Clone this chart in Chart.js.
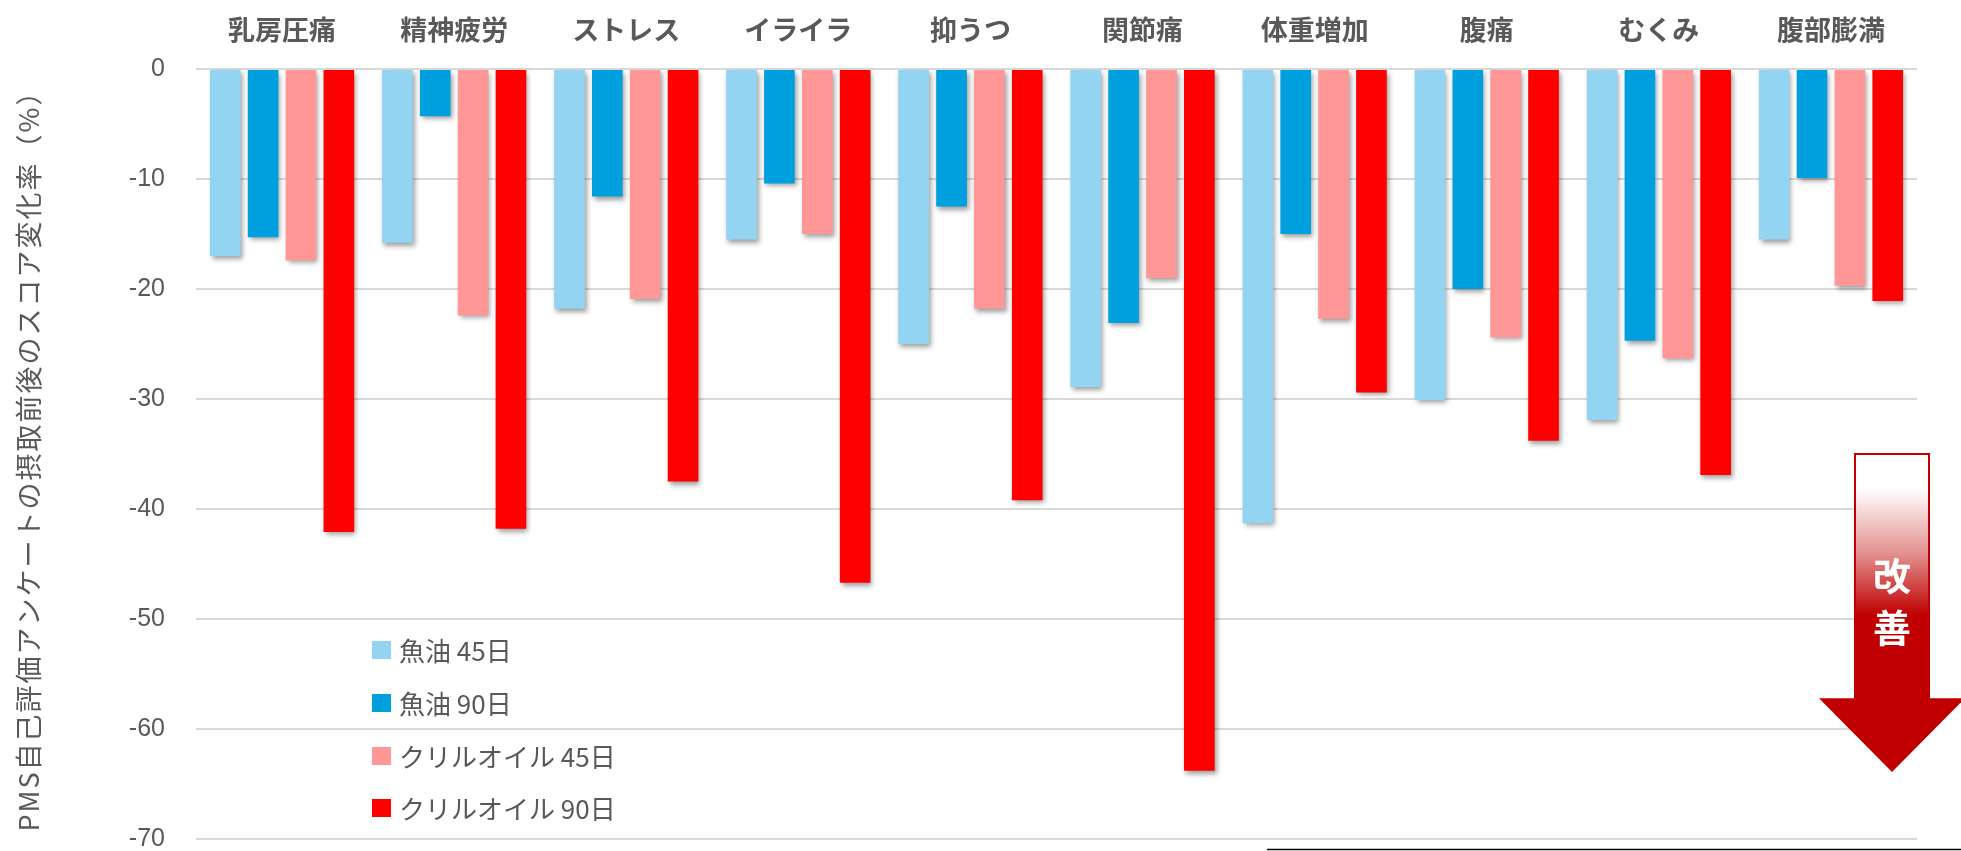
<!DOCTYPE html>
<html lang="ja">
<head>
<meta charset="utf-8">
<title>PMS自己評価アンケート スコア変化率</title>
<script src="https://cdn.jsdelivr.net/npm/chart.js@4.4.1/dist/chart.umd.min.js"></script>
<style>
  html, body { margin: 0; padding: 0; background: #fff; }
  #wrap { position: relative; width: 1961px; height: 851px; }
</style>
</head>
<body>
<div id="wrap"><canvas id="pmsChart" width="1961" height="851"></canvas></div>
<script>
// symptom categories and score change (%) per group
const categories = ['乳房圧痛', '精神疲労', 'ストレス', 'イライラ', '抑うつ', '関節痛', '体重増加', '腹痛', 'むくみ', '腹部膨満'];
const seriesNames = ['魚油 45日', '魚油 90日', 'クリルオイル 45日', 'クリルオイル 90日'];
const fishOil45 = [-17.0, -15.8, -21.8, -15.5, -25.0, -28.9, -41.3, -30.1, -31.9, -15.5];
const fishOil90 = [-15.3, -4.3, -11.6, -10.4, -12.5, -23.1, -15.0, -20.0, -24.7, -9.9];
const krill45 = [-17.4, -22.4, -20.9, -15.0, -21.8, -19.0, -22.7, -24.4, -26.3, -19.7];
const krill90 = [-42.1, -41.8, -37.5, -46.7, -39.2, -63.8, -29.4, -33.8, -36.9, -21.1];
const yTicks = [0, -10, -20, -30, -40, -50, -60, -70];
const yTitle = 'PMS自己評価アンケートの摂取前後のスコア変化率（%）';

const colors = ['#92D4F1', '#00A0DF', '#FF9797', '#FF0000'];
const textGrey = '#595959';
const jpFont = '"Noto Sans CJK JP", "Noto Sans", sans-serif';

// drop shadow under the bars
const barShadow = {
    id: 'barShadow',
    beforeDatasetsDraw(chart) {
        const ctx = chart.ctx;
        ctx.save();
        ctx.shadowColor = 'rgba(0,0,0,0.38)';
        ctx.shadowBlur = 5;
        ctx.shadowOffsetX = 2;
        ctx.shadowOffsetY = 3;
    },
    afterDatasetsDraw(chart) {
        chart.ctx.restore();
    }
};

// axis title, legend inside the plot, arrow and bottom rule
const extras = {
    id: 'extras',
    afterDraw(chart) {
        const ctx = chart.ctx;
        const y = chart.scales.y;
        const area = chart.chartArea;

        // rotated y title with a little tracking
        ctx.save();
        ctx.translate(29, (area.top + area.bottom) / 2);
        ctx.rotate(-Math.PI / 2);
        ctx.font = '27px ' + jpFont;
        ctx.letterSpacing = '2px';
        ctx.fillStyle = textGrey;
        ctx.textAlign = 'center';
        ctx.textBaseline = 'middle';
        ctx.fillText(yTitle, 0, 0);
        ctx.restore();

        // legend
        ctx.save();
        ctx.font = '26px ' + jpFont;
        ctx.textBaseline = 'middle';
        ctx.textAlign = 'left';
        const rowY = [650, 703, 756, 808];
        chart.data.datasets.forEach((ds, i) => {
            ctx.fillStyle = ds.backgroundColor;
            ctx.fillRect(372, rowY[i] - 9, 19, 18);
            ctx.fillStyle = textGrey;
            ctx.fillText(ds.label, 399, rowY[i] + 1);
        });
        ctx.restore();

        // 改善 arrow
        const cx = 1892;
        const shaftL = 1855, shaftR = 1929;
        const top = y.getPixelForValue(-35.0);
        const headTop = y.getPixelForValue(-57.2);
        const tip = y.getPixelForValue(-63.9);
        ctx.save();
        const grad = ctx.createLinearGradient(0, top, 0, headTop);
        grad.addColorStop(0, '#ffffff');
        grad.addColorStop(0.14, '#ffffff');
        grad.addColorStop(0.4, '#e49494');
        grad.addColorStop(0.66, '#c00000');
        grad.addColorStop(1, '#c00000');
        ctx.fillStyle = grad;
        ctx.fillRect(shaftL, top, shaftR - shaftL, headTop - top + 1);
        ctx.strokeStyle = '#c00000';
        ctx.lineWidth = 2;
        ctx.beginPath();
        ctx.moveTo(shaftL, headTop);
        ctx.lineTo(shaftL, top);
        ctx.lineTo(shaftR, top);
        ctx.lineTo(shaftR, headTop);
        ctx.stroke();
        ctx.fillStyle = '#c00000';
        ctx.beginPath();
        ctx.moveTo(cx - 73, headTop);
        ctx.lineTo(cx + 73, headTop);
        ctx.lineTo(cx, tip);
        ctx.closePath();
        ctx.fill();
        ctx.fillStyle = '#ffffff';
        ctx.font = 'bold 38px ' + jpFont;
        ctx.textAlign = 'center';
        ctx.textBaseline = 'middle';
        ctx.fillText('改', cx, 576);
        ctx.fillText('善', cx, 628);
        ctx.restore();

        // thin rule along the bottom edge
        ctx.save();
        ctx.strokeStyle = '#000';
        ctx.lineWidth = 1.5;
        ctx.beginPath();
        ctx.moveTo(1267, 849.5);
        ctx.lineTo(1961, 849.5);
        ctx.stroke();
        ctx.restore();
    }
};

const ctx = document.getElementById('pmsChart').getContext('2d');
const pmsChart = new Chart(ctx, {
    type: 'bar',
    data: {
        labels: categories,
        datasets: [fishOil45, fishOil90, krill45, krill90].map((vals, i) => ({
            label: seriesNames[i],
            data: vals,
            backgroundColor: colors[i],
            borderWidth: 0,
            categoryPercentage: 0.88,
            barPercentage: 0.81
        }))
    },
    options: {
        responsive: false,
        animation: false,
        layout: { padding: { left: 0, right: 44, top: 0, bottom: 12 } },
        plugins: {
            legend: { display: false },
            tooltip: { enabled: false }
        },
        scales: {
            x: {
                position: 'top',
                grid: { display: false, drawTicks: false },
                border: { display: false },
                ticks: {
                    color: textGrey,
                    font: { family: jpFont, size: 27, weight: 'bold' },
                    padding: 23,
                    maxRotation: 0
                },
                afterFit(scale) { scale.height = 69; }
            },
            y: {
                min: -70,
                max: 0,
                afterBuildTicks(scale) {
                    scale.ticks = yTicks.map(v => ({ value: v }));
                },
                grid: { color: '#d9d9d9', lineWidth: 2, drawTicks: false },
                border: { display: false },
                ticks: {
                    color: textGrey,
                    font: { family: '"Liberation Sans Narrow", "Liberation Sans", Arial, sans-serif', size: 25 },
                    padding: 31
                },
                afterFit(scale) {
                    scale.width = 196;
                    // no extra room for the end labels; the plot runs to -70
                    scale.paddingTop = 0;
                    scale.paddingBottom = 0;
                }
            }
        }
    },
    plugins: [barShadow, extras]
});
</script>
</body>
</html>
